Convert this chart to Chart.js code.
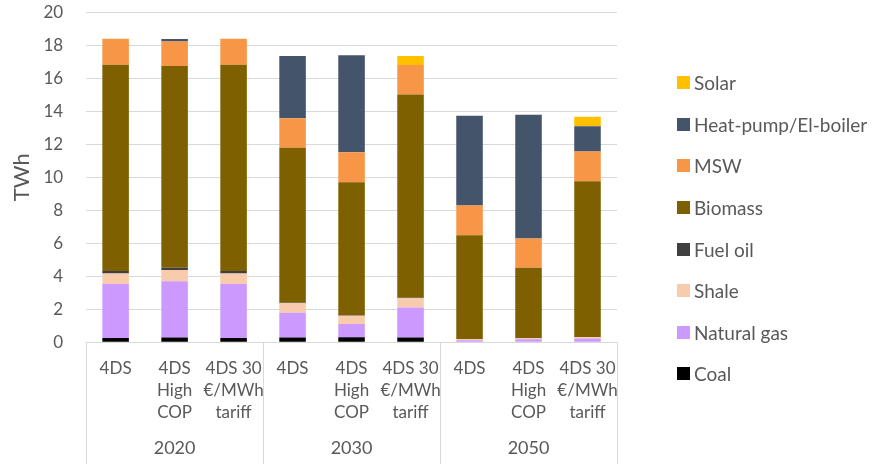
<!DOCTYPE html>
<html>
<head>
<meta charset="utf-8">
<script src="https://cdn.jsdelivr.net/npm/chart.js@4.4.1/dist/chart.umd.min.js"></script>
<style>
  html, body { margin: 0; padding: 0; background: #fff; }
  #wrap { position: relative; width: 875px; height: 464px; }
  #legend {
    position: absolute; left: 677px; top: 62px; margin: 0; padding: 0; list-style: none;
    font-family: Lato, "Liberation Sans", sans-serif; font-size: 19px; color: #595959;
  }
  #legend li { height: 41.6px; display: flex; align-items: center; white-space: nowrap; }
  #legend span.box { display: inline-block; width: 13px; height: 13px; margin-right: 4px; }
</style>
</head>
<body>
<div id="wrap"><canvas id="heat-chart"></canvas><ul id="legend"></ul></div>
<script>
// Catégories (scénario x année)
const scenarios = [
  ['4DS'], ['4DS', 'High', 'COP'], ['4DS 30', '€/MWh', 'tariff'],
  ['4DS'], ['4DS', 'High', 'COP'], ['4DS 30', '€/MWh', 'tariff'],
  ['4DS'], ['4DS', 'High', 'COP'], ['4DS 30', '€/MWh', 'tariff']
];
const years = ['2020', '2030', '2050'];

// Valeurs en TWh, de bas en haut dans la pile
const coal       = [0.25, 0.28, 0.25, 0.28, 0.30, 0.28, 0.00, 0.00, 0.00];
const naturalGas = [3.27, 3.42, 3.27, 1.51, 0.81, 1.83, 0.12, 0.18, 0.22];
const shale      = [0.65, 0.67, 0.65, 0.57, 0.50, 0.55, 0.08, 0.06, 0.10];
const fuelOil    = [0.15, 0.14, 0.15, 0.03, 0.03, 0.03, 0.00, 0.00, 0.00];
const biomass    = [12.50, 12.23, 12.50, 9.40, 8.06, 12.32, 6.28, 4.27, 9.43];
const msw        = [1.57, 1.48, 1.57, 1.79, 1.81, 1.79, 1.80, 1.77, 1.81];
const heatPump   = [0.00, 0.15, 0.00, 3.77, 5.88, 0.00, 5.45, 7.51, 1.53];
const solar      = [0.00, 0.00, 0.00, 0.00, 0.00, 0.55, 0.00, 0.00, 0.58];

const yTicks = [0, 2, 4, 6, 8, 10, 12, 14, 16, 18, 20];

const textColor = '#595959';
const gridColor = '#d9d9d9';
const fontFamily = 'Lato, "Liberation Sans", sans-serif';

function serie(label, data, color) {
  return { label: label, data: data, backgroundColor: color, borderWidth: 0 };
}

// Séparateurs de groupes et années sous l'axe x
const groupLabels = {
  id: 'groupLabels',
  afterDraw(chart) {
    const ctx = chart.ctx;
    const x = chart.scales.x;
    const area = chart.chartArea;
    const per = scenarios.length / years.length;
    const bounds = [area.left];
    for (let g = 1; g < years.length; g++) {
      bounds.push((x.getPixelForValue(g * per - 1) + x.getPixelForValue(g * per)) / 2);
    }
    bounds.push(area.right);
    ctx.save();
    ctx.strokeStyle = gridColor;
    ctx.lineWidth = 1;
    bounds.forEach(b => {
      const px = Math.round(b) + 0.5;
      ctx.beginPath();
      ctx.moveTo(px, area.bottom);
      ctx.lineTo(px, chart.height);
      ctx.stroke();
    });
    ctx.fillStyle = textColor;
    ctx.font = '18px ' + fontFamily;
    ctx.textAlign = 'center';
    ctx.textBaseline = 'middle';
    years.forEach((y, i) => {
      ctx.fillText(y, (bounds[i] + bounds[i + 1]) / 2, chart.height - 16);
    });
    ctx.restore();
  }
};

const chart = new Chart(document.getElementById('heat-chart'), {
  type: 'bar',
  data: {
    labels: scenarios,
    datasets: [
      serie('Coal', coal, '#000000'),
      serie('Natural gas', naturalGas, '#cc99ff'),
      serie('Shale', shale, '#f8cbad'),
      serie('Fuel oil', fuelOil, '#404040'),
      serie('Biomass', biomass, '#7f6000'),
      serie('MSW', msw, '#f79646'),
      serie('Heat-pump/El-boiler', heatPump, '#44546a'),
      serie('Solar', solar, '#ffc000')
    ]
  },
  options: {
    responsive: true,
    maintainAspectRatio: false,
    animation: false,
    datasets: { bar: { barPercentage: 0.45, categoryPercentage: 1 } },
    layout: { padding: { top: 0, right: 258, bottom: 25, left: 9 } },
    plugins: {
      legend: { display: false },
      tooltip: { enabled: false }
    },
    scales: {
      x: {
        stacked: true,
        grid: { display: false, drawTicks: false },
        border: { display: false },
        ticks: {
          color: textColor,
          font: { family: fontFamily, size: 17, lineHeight: 1.31 },
          maxRotation: 0,
          autoSkip: false,
          padding: 15
        }
      },
      y: {
        stacked: true,
        min: yTicks[0],
        max: yTicks[yTicks.length - 1],
        afterBuildTicks: axis => { axis.ticks = yTicks.map(v => ({ value: v })); },
        grid: { color: gridColor, drawTicks: true, tickLength: 21, tickColor: 'rgba(0,0,0,0)' },
        border: { display: false },
        ticks: {
          color: textColor,
          font: { family: fontFamily, size: 17 },
          padding: 2
        },
        title: {
          display: true,
          text: 'TWh',
          color: textColor,
          font: { family: fontFamily, size: 22 },
          padding: { top: 0, bottom: 6 }
        }
      }
    }
  },
  plugins: [groupLabels]
});

// Légende HTML, du haut de la pile vers le bas
const legendList = document.getElementById('legend');
chart.data.datasets.slice().reverse().forEach(ds => {
  const li = document.createElement('li');
  const box = document.createElement('span');
  box.className = 'box';
  box.style.background = ds.backgroundColor;
  li.appendChild(box);
  li.appendChild(document.createTextNode(ds.label));
  legendList.appendChild(li);
});
</script>
</body>
</html>
